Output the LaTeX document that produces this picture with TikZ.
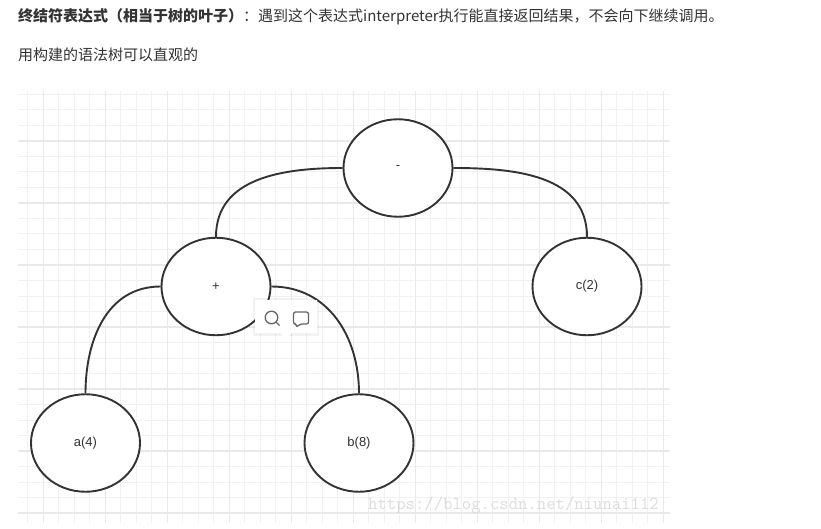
\documentclass[tikz,border=0pt]{standalone}
\usepackage{fontspec}
\setmainfont{Noto Sans CJK SC}
\newfontfamily\labelfont{Liberation Sans}
\usetikzlibrary{shapes.geometric}
\definecolor{gridminor}{HTML}{F1F1F1}
\definecolor{gridmajor}{HTML}{E9E9E9}
\definecolor{ink}{HTML}{333333}
\definecolor{wm}{HTML}{DCDCDC}
\definecolor{icon}{HTML}{666666}
\begin{document}
\begin{tikzpicture}[x=1pt,y=-1pt,
  treenode/.style={ellipse, draw=ink, line width=1.9pt, fill=white, minimum width=109pt, minimum height=97.5pt, inner sep=0pt, text=ink, font=\labelfont\fontsize{13}{15}\selectfont},
  edge/.style={draw=ink, line width=1.9pt},
  minorline/.style={draw=gridminor, line width=1pt},
  majorline/.style={draw=gridmajor, line width=1.1pt},
  bodytext/.style={anchor=west, inner sep=0pt, text=ink, font=\fontsize{15}{17}\selectfont},
  iconline/.style={draw=icon, line width=1.3pt}
  ]
\useasboundingbox (0,0) rectangle (821,529);
% grid
\begin{scope}
\clip (18,91) rectangle (670,523);
\foreach \i in {0,...,41} \draw[minorline] (27.8+15.5*\i,91) -- (27.8+15.5*\i,523);
\foreach \i in {0,...,28} \draw[minorline] (18,94.5+15.5*\i) -- (670,94.5+15.5*\i);
\foreach \i in {0,...,10} \draw[majorline] (43.3+62*\i,91) -- (43.3+62*\i,523);
\foreach \i in {0,...,6} \draw[majorline] (18,141+62*\i) -- (670,141+62*\i);
\end{scope}
% top text
\node[bodytext] (line1) at (18,16.5) {\textbf{终结符表达式（相当于树的叶子）}：遇到这个表达式interpreter执行能直接返回结果，不会向下继续调用。};
\node[bodytext] (line2) at (18,55) {用构建的语法树可以直观的};
% tree nodes
\node[treenode] (minus) at (398,168) {-};
\node[treenode] (plus) at (216,286.5) {+};
\node[treenode] (c) at (587,286.5) {c(2)};
\node[treenode] (a) at (85.5,443) {a(4)};
\node[treenode] (b) at (359,443) {b(8)};
% connectors
\draw[edge] (minus.west) to[out=180,in=90,looseness=1.05] (plus.north);
\draw[edge] (minus.east) to[out=0,in=90,looseness=1.05] (c.north);
\draw[edge] (plus.west) to[out=180,in=90,looseness=1.05] (a.north);
\draw[edge] (plus.east) to[out=0,in=90,looseness=1.05] (b.north);
% toolbar popup
\fill[black,opacity=0.05] (253,298) rectangle (319,336);
\fill[white] (255,300) -- (317,300) -- (317,333) -- (291,333) -- (285.7,339) -- (280.5,333) -- (255,333) -- cycle;
\draw[iconline] (271.5,317.5) circle (6.3pt);
\draw[iconline] (276,322) -- (279.5,325.5);
\draw[iconline, rounded corners=2pt, line join=round] (293.5,312) -- (308.5,312) -- (308.5,324) -- (299.5,324) -- (296.5,327.5) -- (296.5,324) -- (293.5,324) -- cycle;
% watermark
\node[anchor=base west, inner sep=0pt, text=wm, font=\ttfamily\fontsize{18.2}{20}\selectfont] (wmark) at (368,509.5) {https://blog.csdn.net/niunai112};
\end{tikzpicture}
\end{document}
